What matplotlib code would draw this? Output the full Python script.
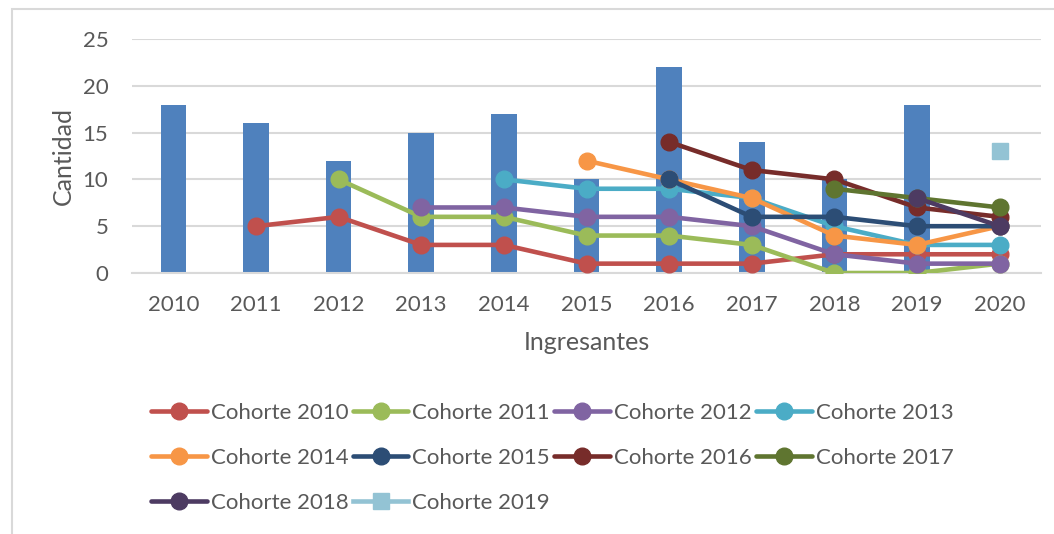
import numpy as np
import matplotlib
matplotlib.use("Agg")
import matplotlib.pyplot as plt
from matplotlib.patches import Rectangle

years = ["2010", "2011", "2012", "2013", "2014", "2015", "2016", "2017", "2018", "2019", "2020"]
ingresantes = [18, 16, 12, 15, 17, 10, 22, 14, 10, 18, np.nan]

nan = np.nan
cohorte_2010 = [nan, 5, 6, 3, 3, 1, 1, 1, 2, 2, 2]
cohorte_2011 = [nan, nan, 10, 6, 6, 4, 4, 3, 0, 0, 1]
cohorte_2012 = [nan, nan, nan, 7, 7, 6, 6, 5, 2, 1, 1]
cohorte_2013 = [nan, nan, nan, nan, 10, 9, 9, 8, 5, 3, 3]
cohorte_2014 = [nan, nan, nan, nan, nan, 12, 10, 8, 4, 3, 5]
cohorte_2015 = [nan, nan, nan, nan, nan, nan, 10, 6, 6, 5, 5]
cohorte_2016 = [nan, nan, nan, nan, nan, nan, 14, 11, 10, 7, 6]
cohorte_2017 = [nan, nan, nan, nan, nan, nan, nan, nan, 9, 8, 7]
cohorte_2018 = [nan, nan, nan, nan, nan, nan, nan, nan, nan, 8, 5]
cohorte_2019 = [nan, nan, nan, nan, nan, nan, nan, nan, nan, nan, 13]

series = [
    ("Cohorte 2010", cohorte_2010, "#C0504D", "o"),
    ("Cohorte 2011", cohorte_2011, "#9BBB59", "o"),
    ("Cohorte 2012", cohorte_2012, "#8064A2", "o"),
    ("Cohorte 2013", cohorte_2013, "#4BACC6", "o"),
    ("Cohorte 2014", cohorte_2014, "#F79646", "o"),
    ("Cohorte 2015", cohorte_2015, "#2C4D75", "o"),
    ("Cohorte 2016", cohorte_2016, "#772C2A", "o"),
    ("Cohorte 2017", cohorte_2017, "#5F7530", "o"),
    ("Cohorte 2018", cohorte_2018, "#4D3B62", "o"),
    ("Cohorte 2019", cohorte_2019, "#93C3D4", "s"),
]

plt.rcParams['font.family'] = ['Lato', 'DejaVu Sans']
txt = "#595959"

fig = plt.figure(figsize=(10.54, 5.34), dpi=100)
fig.patches.append(Rectangle((12/1054, -0.05), 1.2, 1 - 9/534 + 0.05, transform=fig.transFigure,
                             fill=False, edgecolor="#D9D9D9", linewidth=1.5))

ax = fig.add_axes([132/1054, 1 - 273/534, (1041-132)/1054, (273-39)/534])
x = np.arange(len(years))
ax.bar(x, ingresantes, width=0.31, color="#4F81BD", zorder=2, label="_nolegend_")

handles = []
for name, vals, col, mk in series:
    if mk == "s":
        h, = ax.plot(x, vals, marker="s", markersize=12, color=col, linestyle="-",
                     linewidth=3.3, zorder=3, label=name)
    else:
        h, = ax.plot(x, vals, marker="o", markersize=12, color=col, linewidth=3.3,
                     zorder=3, label=name, solid_capstyle="round")
    handles.append(h)

ax.set_xlim(-0.5, len(years) - 0.5)
ax.set_ylim(0, 25)
ax.set_yticks([0, 5, 10, 15, 20, 25])
ax.set_xticks(x)
ax.set_xticklabels(years)
ax.grid(axis="y", color="#D9D9D9", linewidth=1.5, zorder=0)
ax.set_axisbelow(True)
for s in ["top", "right", "left"]:
    ax.spines[s].set_visible(False)
ax.spines["bottom"].set_color("#D9D9D9")
ax.spines["bottom"].set_linewidth(1.5)
ax.tick_params(axis="both", length=0, labelsize=16, colors=txt)
ax.tick_params(axis="y", pad=17)
ax.tick_params(axis="x", pad=16)
ax.set_ylabel("Cantidad", fontsize=18, color=txt, va="center")
ax.set_xlabel("Ingresantes", fontsize=18, color=txt, va="center")
ax.yaxis.set_label_coords((63 - 132) / 909, 0.5)
ax.xaxis.set_label_coords(0.5, -(343 - 273) / 234)

# row-major legend ordering for a 4-column legend filled column by column
order = [0, 4, 8, 1, 5, 9, 2, 6, 3, 7]
leg = fig.legend(handles=[handles[i] for i in order], loc="upper left",
                 bbox_to_anchor=(151/1054, 1 - 403/534),
                 ncol=4, frameon=False, fontsize=16, handlelength=2.5, handletextpad=0.18,
                 columnspacing=0.2, labelspacing=1.12, borderaxespad=0, borderpad=0)
for t in leg.get_texts():
    t.set_color(txt)

fig.savefig("out.png", dpi=100)
